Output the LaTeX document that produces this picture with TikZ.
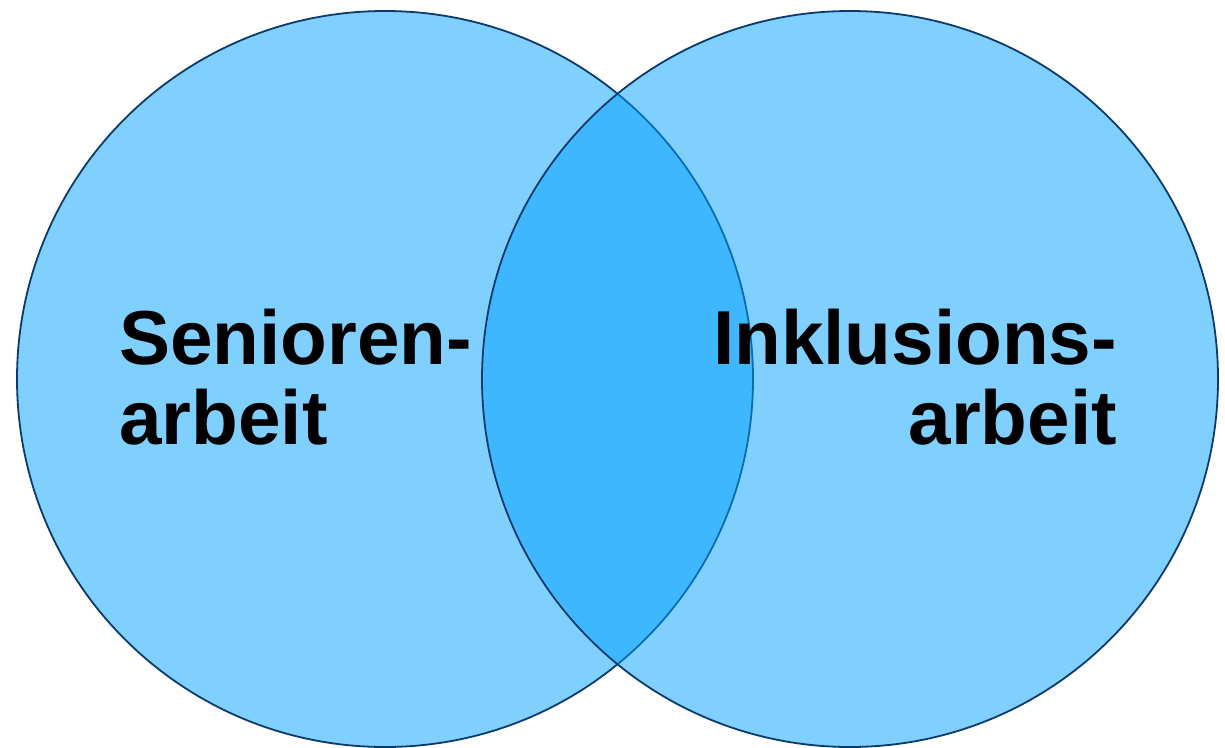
\documentclass[tikz,border=0pt]{standalone}
\usepackage{fontspec}
\setmainfont{Liberation Sans}
\definecolor{venn}{HTML}{00A0FF}
\definecolor{rim}{HTML}{0B3A6B}
\tikzset{
  set/.style={circle, minimum size=736pt, inner sep=0pt, fill=venn, fill opacity=0.5, draw=rim, line width=1.8pt},
  lbl/.style={inner sep=0pt, font=\fontsize{76.5}{80}\selectfont\bfseries, text=black}
}
\begin{document}
\begin{tikzpicture}[x=1pt,y=-1pt]
\useasboundingbox (0,0) rectangle (1225,747);
\node[set] (L) at (385,379) {};
\node[set] (R) at (850,379) {};
\node[lbl, anchor=base west] (s1) at (119,364) {Senioren-};
\node[lbl, anchor=base west] (s2) at (119,444) {arbeit};
\node[lbl, anchor=base east] (i1) at (1117,364) {Inklusions-};
\node[lbl, anchor=base east] (i2) at (1117,444) {arbeit};
\end{tikzpicture}
\end{document}
